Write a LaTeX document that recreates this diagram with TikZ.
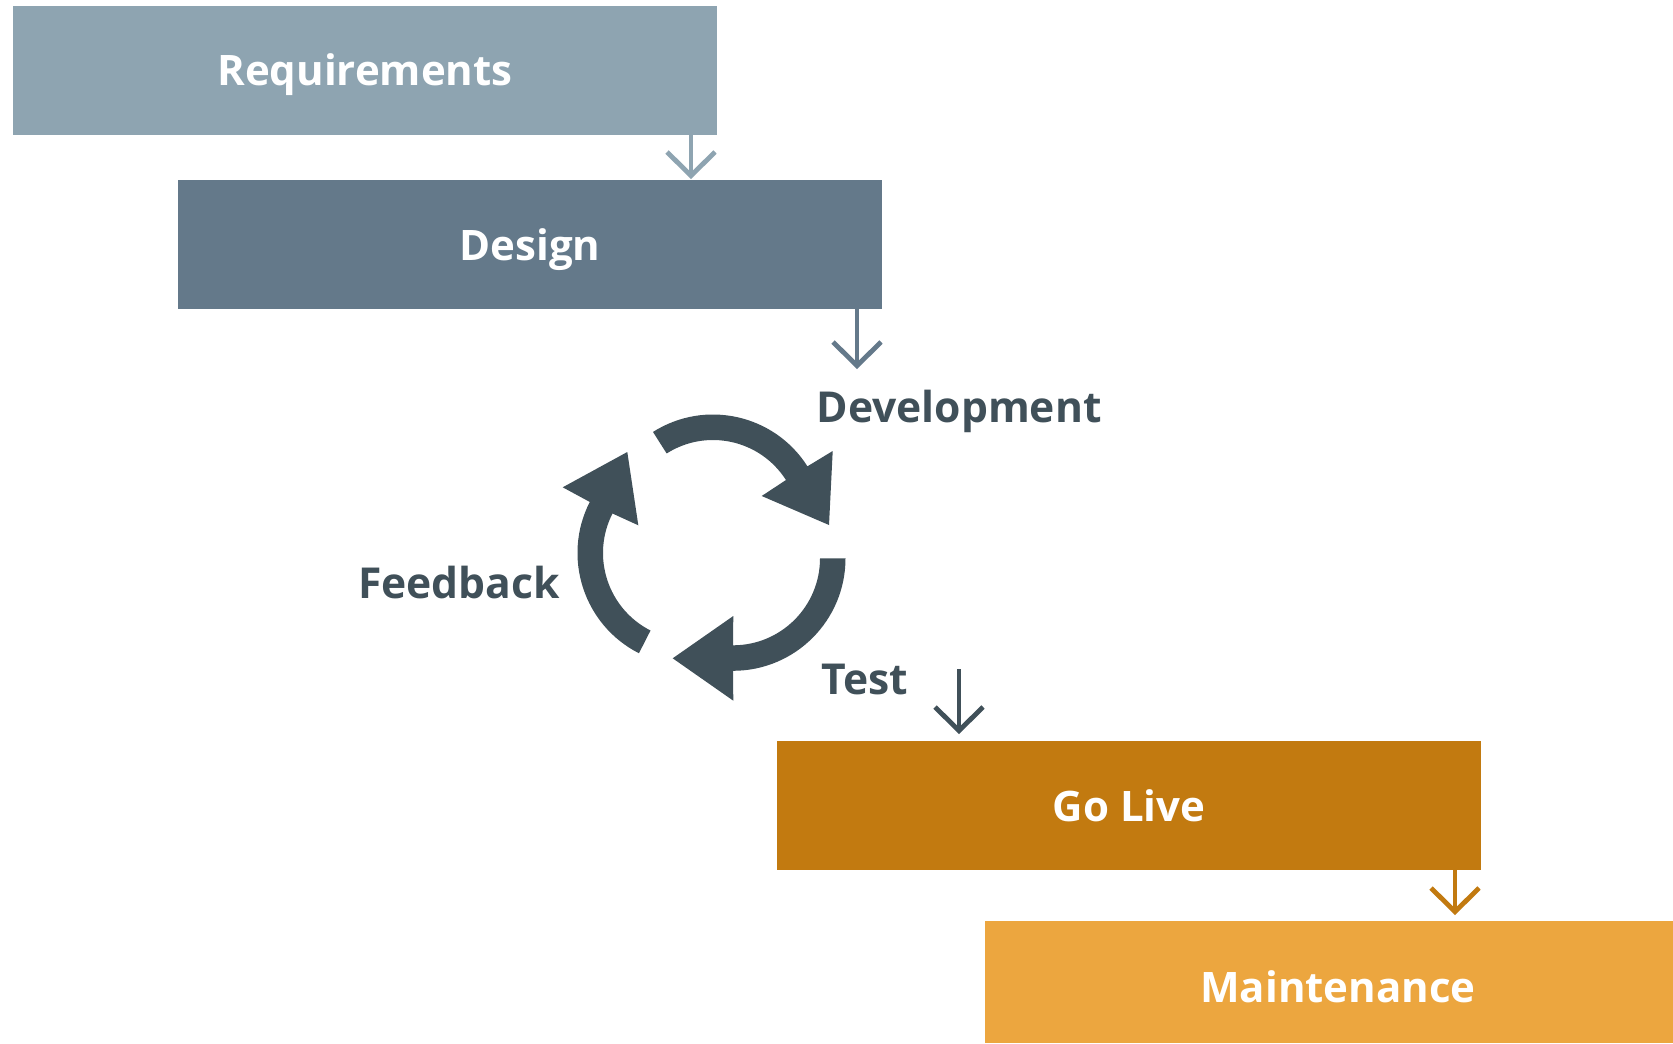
\documentclass[tikz,border=0pt]{standalone}
\usepackage{fontspec}
\setmainfont{Open Sans}[BoldFont={Open Sans Bold}]
\definecolor{cReq}{HTML}{8EA4B1}
\definecolor{cDes}{HTML}{64798A}
\definecolor{cDark}{HTML}{405059}
\definecolor{cGo}{HTML}{C27A10}
\definecolor{cMain}{HTML}{ECA63F}
\tikzset{
  x=0.5pt,y=-0.5pt,
  stage/.style={fill=#1,draw=none},
  stagetext/.style={text=white,font=\fontsize{21}{25}\selectfont\bfseries,inner sep=0pt,anchor=base},
  looptext/.style={text=cDark,font=\fontsize{21.3}{25}\selectfont\bfseries,inner sep=0pt,anchor=base},
  flowline/.style={draw=#1,line width=2.2pt,line cap=butt},
  flowhead/.style={draw=#1,line width=2.4pt,line join=miter,line cap=butt},
  looparrow/.style={fill=cDark,draw=none}
}
\begin{document}
\begin{tikzpicture}
\useasboundingbox (0,0) rectangle (1673,1043);
\fill[white] (0,0) rectangle (1673,1043);
% boxes
\path[stage=cReq] (13,6) rectangle (717,135);
\path[stage=cDes] (178,180) rectangle (882,308.5);
\path[stage=cGo] (777,740.5) rectangle (1481,870);
\path[stage=cMain] (985,921) rectangle (1673,1043);
\coordinate (reqbot) at (691,135);
\coordinate (destop) at (691,175.7);
\coordinate (desbot) at (857,308.5);
\coordinate (devtip) at (857,365.7);
\coordinate (testtop) at (959,669);
\coordinate (gotop) at (959,730.7);
\coordinate (gobot) at (1455,870);
\coordinate (maintop) at (1455,911.7);
\draw[flowline=cReq] (reqbot) -- (destop);
\draw[flowhead=cReq] (667,152) -- (destop) -- (715,152);
\draw[flowline=cDes] (desbot) -- (devtip);
\draw[flowhead=cDes] (833,342) -- (devtip) -- (881,342);
\draw[flowline=cDark] (testtop) -- (gotop);
\draw[flowhead=cDark] (935,707) -- (gotop) -- (983,707);
\draw[flowline=cGo] (gobot) -- (maintop);
\draw[flowhead=cGo] (1431,888) -- (maintop) -- (1479,888);
% labels
\node[stagetext] (req) at (365,85.7) {Requirements};
\node[stagetext] (des) at (530,260) {Design};
\node[stagetext] (go) at (1129,821) {Go Live};
\node[stagetext] (mai) at (1338,1002) {Maintenance};
\node[looptext] (dev) at (959,422) {Development};
\node[looptext] (fee) at (459,598) {Feedback};
\node[looptext] (tes) at (865,694) {Test};
% loop arrows
\fill[looparrow] ([shift={(713,526.5)}]-122.4:112) arc[start angle=-122.4,end angle=-32.5,radius=112]
  -- (832.7,451) -- (829,525) -- (761.7,496) -- ([shift={(713,526.5)}]-32.5:86.5)
  arc[start angle=-32.5,end angle=-122.4,radius=86.5] -- cycle;
\fill[looparrow] ([shift={(733,558.3)}]0:112.5) arc[start angle=0,end angle=90,radius=112.5]
  -- (733.3,700.7) -- (672.7,658.3) -- (733.3,616) -- ([shift={(733,558.3)}]90:87)
  arc[start angle=90,end angle=0,radius=87] -- cycle;
\fill[looparrow] ([shift={(690,553)}]117:112.5) arc[start angle=117,end angle=207,radius=112.5]
  -- (562.7,487.3) -- (627.3,452) -- (638.3,525.3) -- ([shift={(690,553)}]207:87)
  arc[start angle=207,end angle=117,radius=87] -- cycle;
\end{tikzpicture}
\end{document}
